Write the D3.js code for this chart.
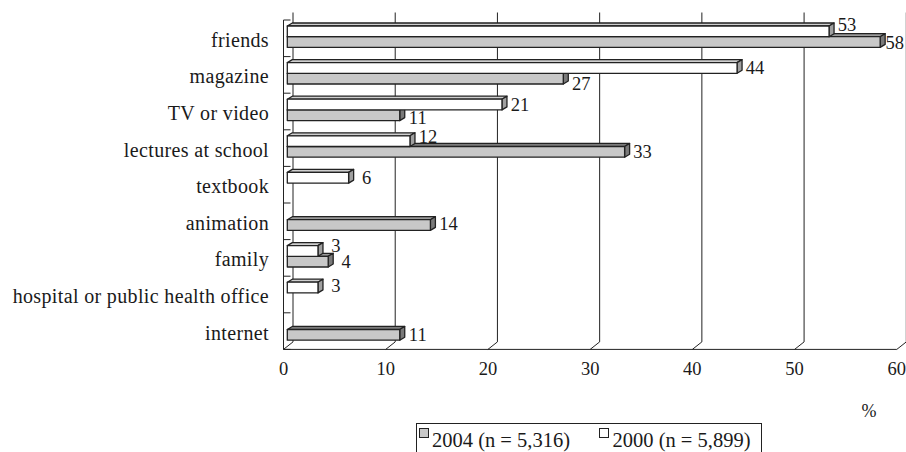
<!DOCTYPE html>
<html>
<head>
<meta charset="utf-8">
<script src="https://cdnjs.cloudflare.com/ajax/libs/d3/7.8.5/d3.min.js"></script>
<style>
  html, body { margin: 0; padding: 0; background: #fff; }
  svg { display: block; }
  text { font-family: "Liberation Serif", "Times New Roman", serif; fill: #1a1a1a; }
</style>
</head>
<body>
<svg id="chart" width="906" height="452"></svg>
<script>
// Sources of information, share of respondents (%)
const categories = [
  "friends", "magazine", "TV or video", "lectures at school", "textbook",
  "animation", "family", "hospital or public health office", "internet"
];
const values2004 = [58, 27, 11, 33, null, 14, 4, null, 11];
const values2000 = [53, 44, 21, 12, 6, null, 3, 3, null];
const xTicks = [0, 10, 20, 30, 40, 50, 60];
const seriesKeys = ["2000", "2004"];
const seriesNames = { "2004": "2004 (n = 5,316)", "2000": "2000 (n = 5,899)" };
const unitLabel = "%";

const width = 906;
const svg = d3.select("#chart");

// front plane of the 3-D box
const x = d3.scaleLinear().domain([0, 60]).range([283.5, 896.8]);
const y = d3.scaleBand().domain(categories).range([20, 349.4]);
const slot = d3.scaleBand().domain(seriesKeys).range([6, 27.4]);

// oblique depth of the walls and of the bars
const wall = { dx: 9.5, dy: -7.5 };
const barOff = { dx: 3.8, dy: 0 };
const barDepth = { dx: 5, dy: -3 };

const ink = "#222";
const floorY = y.range()[1];
const topBack = 12.5;

const colors = {
  "2004": { front: "#c8c8c8", top: "#9a9a9a", side: "#7a7a7a" },
  "2000": { front: "#ffffff", top: "#cfcfcf", side: "#a0a0a0" }
};

// back wall gridlines and floor diagonals
const grid = svg.append("g").attr("stroke", ink).attr("stroke-width", 1).attr("fill", "none");
xTicks.forEach(t => {
  const xf = x(t), xb = x(t) + wall.dx;
  grid.append("path")
    .attr("d", `M${xb},${topBack}V${floorY + wall.dy}L${xf},${floorY}`);
});
// floor front edge (value axis)
grid.append("path").attr("d", `M${x(0)},${floorY}H${x(60)}`);

// category axis with ticks
const catAxis = svg.append("g").attr("stroke", ink).attr("stroke-width", 1).attr("fill", "none");
catAxis.append("path").attr("d", `M${x(0)},${y.range()[0]}V${floorY}`);
const tickYs = categories.map(c => y(c)).concat([floorY]);
tickYs.forEach(ty => {
  catAxis.append("path").attr("d", `M${x(0)},${ty}h7`);
});

// value axis tick labels
svg.append("g").selectAll("text").data(xTicks).join("text")
  .attr("x", d => x(d))
  .attr("y", 375)
  .attr("text-anchor", "middle")
  .attr("font-size", 18.5)
  .text(d => d);

// category labels
svg.append("g").selectAll("text").data(categories).join("text")
  .attr("x", 269)
  .attr("y", d => y(d) + y.bandwidth() / 2 + 8.5)
  .attr("text-anchor", "end")
  .attr("font-size", 20)
  .attr("letter-spacing", 0.35)
  .text(d => d);

// bar records
const bars = [];
categories.forEach((c, i) => {
  if (values2004[i] != null) bars.push({ cat: c, key: "2004", v: values2004[i] });
  if (values2000[i] != null) bars.push({ cat: c, key: "2000", v: values2000[i] });
});

const x0 = x(0) + barOff.dx;
function barGeom(b) {
  const yt = y(b.cat) + slot(b.key) + barOff.dy;
  const h = slot.bandwidth();
  const xe = x0 + (x(b.v) - x(0));
  return { xs: x0, xe, yt, yb: yt + h, h };
}

const barG = svg.append("g").attr("stroke", ink).attr("stroke-width", 1.3).attr("stroke-linejoin", "round");
// lower (2004) bar drawn first so the upper bar's face hides its top
bars.forEach(b => {
  const g = barGeom(b);
  const col = colors[b.key];
  const dx = barDepth.dx, dy = barDepth.dy;
  const grp = barG.append("g");
  grp.append("path").attr("fill", col.top)
    .attr("d", `M${g.xs},${g.yt}L${g.xs + dx},${g.yt + dy}H${g.xe + dx}L${g.xe},${g.yt}Z`);
  grp.append("path").attr("fill", col.side)
    .attr("d", `M${g.xe},${g.yt}L${g.xe + dx},${g.yt + dy}V${g.yb + dy}L${g.xe},${g.yb}Z`);
  grp.append("rect").attr("fill", col.front)
    .attr("x", g.xs).attr("y", g.yt).attr("width", g.xe - g.xs).attr("height", g.h);
});

// value labels centred just past the bar ends (a few lifted to keep clear of neighbours)
const labelShift = {
  "friends|2000": -6.5, "magazine|2004": 5, "TV or video|2004": 2,
  "lectures at school|2000": -5, "animation|2004": -2,
  "family|2000": -5, "hospital or public health office|2000": -2
};
svg.append("g").selectAll("text").data(bars).join("text")
  .attr("y", b => {
    const g = barGeom(b);
    return g.yt + g.h / 2 + 6.5 + (labelShift[b.cat + "|" + b.key] || 0);
  })
  .attr("text-anchor", "middle")
  .attr("font-size", 18.5)
  .text(b => b.v)
  .attr("x", function (b) {
    // keep the label inside the drawing area
    const half = this.getComputedTextLength() / 2;
    return Math.min(barGeom(b).xe + barDepth.dx + 13, width - 2 - half);
  });

// unit
svg.append("text").attr("x", 869).attr("y", 417)
  .attr("text-anchor", "middle").attr("font-size", 18).text(unitLabel);

// legend
const leg = svg.append("g");
leg.append("rect").attr("x", 416.5).attr("y", 423.5).attr("width", 345).attr("height", 40)
  .attr("fill", "#fff").attr("stroke", ink).attr("stroke-width", 1);
const legItems = [
  { key: "2004", sx: 419.5, tx: 432 },
  { key: "2000", sx: 599.5, tx: 612.5 }
];
legItems.forEach(it => {
  leg.append("rect").attr("x", it.sx).attr("y", 428.5).attr("width", 9).attr("height", 9)
    .attr("fill", colors[it.key].front).attr("stroke", ink).attr("stroke-width", 1);
  leg.append("text").attr("x", it.tx).attr("y", 446.5).attr("font-size", 20.5)
    .text(seriesNames[it.key]);
});
</script>
</body>
</html>
